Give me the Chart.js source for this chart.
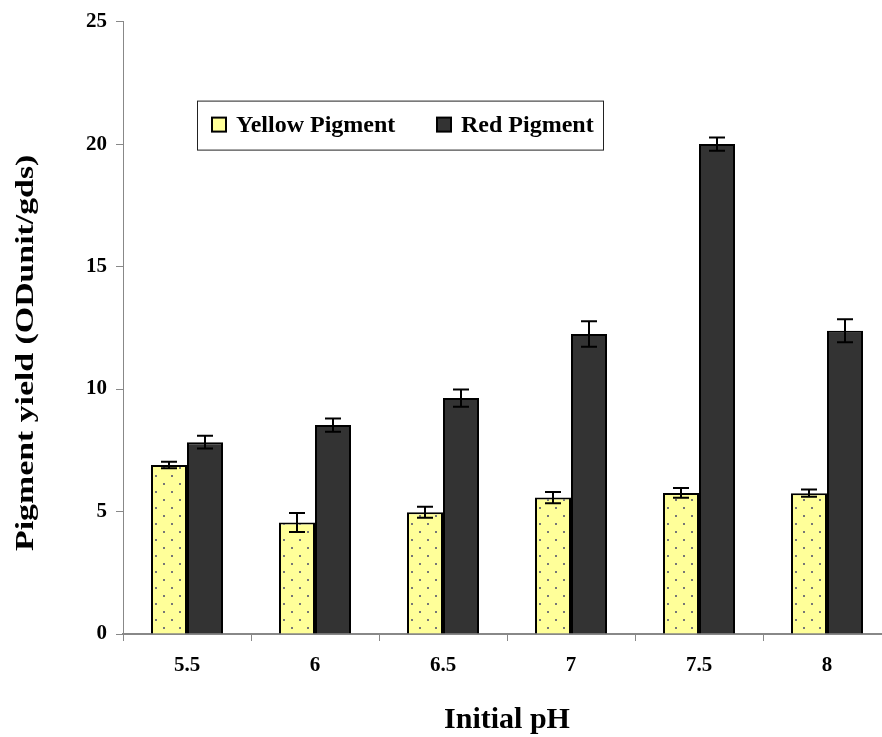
<!DOCTYPE html>
<html>
<head>
<meta charset="utf-8">
<script src="https://cdn.jsdelivr.net/npm/chart.js@4"></script>
<style>
  html, body { margin: 0; padding: 0; background: #fff; overflow: hidden; }
</style>
</head>
<body>
<canvas id="myChart" width="892" height="737"></canvas>
<script>
const ctx = document.getElementById('myChart');

// initial pH on the x axis
const labels = ['5.5', '6', '6.5', '7', '7.5', '8'];
const yellowPigment = [6.9, 4.55, 4.97, 5.57, 5.76, 5.75];
const yellowErr = [0.13, 0.39, 0.22, 0.23, 0.2, 0.15];
const redPigment = [7.83, 8.53, 9.63, 12.25, 20.0, 12.38];
const redErr = [0.26, 0.27, 0.35, 0.52, 0.27, 0.47];
const yTicks = [0, 5, 10, 15, 20, 25];

const serif = "'Liberation Serif', 'Times New Roman', serif";

// dotted fill of the yellow bars
function dotPattern() {
  const c = document.createElement('canvas');
  c.width = 16; c.height = 16;
  const g = c.getContext('2d');
  g.fillStyle = '#FFFF99';
  g.fillRect(0, 0, 16, 16);
  g.fillStyle = '#777';
  g.fillRect(3, 3, 2, 2);
  g.fillRect(11, 11, 2, 2);
  return g.createPattern(c, 'repeat');
}
const yellowFill = dotPattern();

const errors = [yellowErr, redErr];

// error bars drawn from the y scale
const errorBars = {
  id: 'errorBars',
  afterDatasetsDraw(chart) {
    const c = chart.ctx;
    const y = chart.scales.y;
    c.save();
    c.strokeStyle = '#000';
    c.lineWidth = 2;
    chart.data.datasets.forEach((ds, i) => {
      const meta = chart.getDatasetMeta(i);
      meta.data.forEach((bar, j) => {
        const v = ds.data[j], e = errors[i][j];
        const top = y.getPixelForValue(v + e);
        const bot = y.getPixelForValue(v - e);
        c.beginPath();
        c.moveTo(bar.x, top); c.lineTo(bar.x, bot);
        c.moveTo(bar.x - 8, top); c.lineTo(bar.x + 8, top);
        c.moveTo(bar.x - 8, bot); c.lineTo(bar.x + 8, bot);
        c.stroke();
      });
    });
    c.restore();
  }
};

// boxed legend inside the plot + rotated y title
const extras = {
  id: 'extras',
  afterDraw(chart) {
    const c = chart.ctx;
    const a = chart.chartArea;
    c.save();
    // legend box
    const bx = a.left + 74, by = a.top + 79;
    c.fillStyle = '#fff';
    c.fillRect(bx, by, 406, 49);
    c.strokeStyle = '#222';
    c.lineWidth = 1;
    c.strokeRect(bx + 0.5, by + 0.5, 406, 49);
    const items = [
      { text: chart.data.datasets[0].label, fill: '#FFFF99', x: bx + 15 },
      { text: chart.data.datasets[1].label, fill: '#333333', x: bx + 240 }
    ];
    c.font = 'bold 24px ' + serif;
    c.textBaseline = 'middle';
    items.forEach(it => {
      c.fillStyle = it.fill;
      c.fillRect(it.x, by + 17, 14, 14);
      c.lineWidth = 2;
      c.strokeStyle = '#000';
      c.strokeRect(it.x, by + 17, 14, 14);
      c.fillStyle = '#000';
      c.fillText(it.text, it.x + 24, by + 25);
    });
    // y axis title, stretched along its length like the source
    c.translate(26, (a.top + a.bottom) / 2 + 25);
    c.rotate(-Math.PI / 2);
    c.scale(1.3, 1);
    c.textAlign = 'center';
    c.font = 'bold 26px ' + serif;
    c.fillText('Pigment yield (ODunit/gds)', 0, 0);
    c.restore();
  }
};

const data = {
  labels: labels,
  datasets: [
    {
      label: 'Yellow Pigment',
      data: yellowPigment,
      backgroundColor: yellowFill,
      borderColor: '#000',
      borderWidth: 2,
      categoryPercentage: 0.5625,
      barPercentage: 1
    },
    {
      label: 'Red Pigment',
      data: redPigment,
      backgroundColor: '#333333',
      borderColor: '#000',
      borderWidth: 2,
      categoryPercentage: 0.5625,
      barPercentage: 1
    }
  ]
};

const config = {
  type: 'bar',
  data: data,
  plugins: [errorBars, extras],
  options: {
    responsive: false,
    animation: false,
    layout: { padding: { top: 20, right: 1, left: 0, bottom: 0 } },
    scales: {
      x: {
        grid: { drawOnChartArea: false, tickLength: 7, color: '#888', offset: true },
        border: { color: '#888', width: 2 },
        ticks: { color: '#000', padding: 12, font: { family: serif, size: 21, weight: 'bold' } },
        title: {
          display: true,
          text: 'Initial pH',
          color: '#000',
          padding: { top: 14, bottom: 2 },
          font: { family: serif, size: 30, weight: 'bold', lineHeight: 1.0 }
        },
        afterFit: s => { s.height = 103; }
      },
      y: {
        min: 0,
        max: 25,
        afterBuildTicks: s => { s.ticks = yTicks.map(v => ({ value: v })); },
        grid: { drawOnChartArea: false, tickLength: 7, color: '#888' },
        border: { color: '#888', width: 1 },
        ticks: { color: '#000', padding: 9, font: { family: serif, size: 21, weight: 'bold' } },
        afterFit: s => { s.width = 123; }
      }
    },
    plugins: {
      legend: { display: false },
      tooltip: { enabled: false }
    }
  }
};

const myChart = new Chart(ctx, config);
</script>
</body>
</html>
